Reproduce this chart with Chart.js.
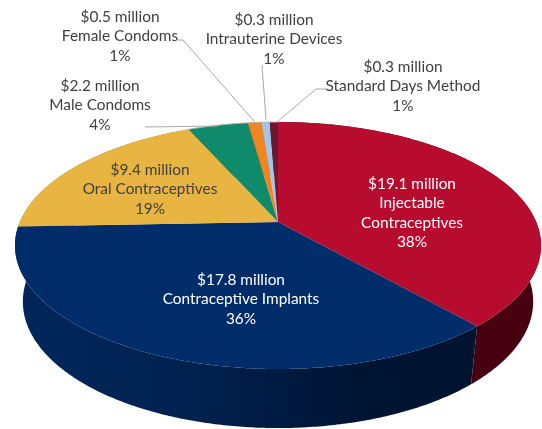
<!DOCTYPE html>
<html>
<head>
<meta charset="utf-8">
<title>Contraceptive spending</title>
<script src="https://cdn.jsdelivr.net/npm/chart.js@4/dist/chart.umd.js"></script>
<style>
  html, body { margin: 0; padding: 0; background: #fff; }
  canvas { display: block; }
</style>
</head>
<body>
<canvas id="chart" width="542" height="429"></canvas>
<script>
const categories = ['Injectable Contraceptives', 'Contraceptive Implants', 'Oral Contraceptives', 'Male Condoms', 'Female Condoms', 'Intrauterine Devices', 'Standard Days Method'];
const millions = [19.1, 17.8, 9.4, 2.2, 0.5, 0.3, 0.3];
const shares = [38, 36, 19, 4, 1, 1, 1];
const topColors = ['#b80c2f', '#002d69', '#e8b542', '#0f8a6b', '#f08622', '#a5c4ea', '#6a1a30'];
const wallColors = ['#47000f', '#00214f', '#a07c20', '#0a5c48', '#a85a14', '#7088a0', '#40101c'];

// label text per slice, split the way the slide breaks it
const labelLines = [
  ['Injectable', 'Contraceptives'],
  ['Contraceptive Implants'],
  ['Oral Contraceptives'],
  ['Male Condoms'],
  ['Female Condoms'],
  ['Intrauterine Devices'],
  ['Standard Days Method']
];
const labelColors = ['#fff', '#fff', '#404040', '#404040', '#404040', '#404040', '#404040'];
const labelAnchors = [[412, 184], [241, 280], [150, 170], [100, 86], [120, 17], [274, 20], [403, 67]];
const leaderLines = [
  null, null, null,
  [[145, 127], [218, 126]],
  [[178, 40], [183, 40], [254, 121]],
  [[262, 65], [266, 120]],
  [[327, 89], [316, 89], [277, 122]]
];

// perspective of the pie disc: top face and bottom rim
const cx = 278;
const tilt = 0.1903;
const topFace = { c: 258.2, a: 76.8, b: 222 };
const bottomFace = { c: 250.5, a: 69, b: 277.6 };

function project(face, angle) {
  const u = Math.cos(angle), v = Math.sin(angle);
  const w = 1 - tilt * v;
  return [cx + face.c * u / w, (face.a * v + face.b) / w];
}

function arcSteps(start, end) {
  const n = Math.max(2, Math.ceil((end - start) / 0.01));
  const out = [];
  for (let i = 0; i <= n; i++) out.push(start + (end - start) * i / n);
  return out;
}

class Arc3d extends Chart.ArcElement {
  static id = 'arc3d';
  static defaults = Chart.ArcElement.defaults;

  drawWall(ctx, color) {
    const angles = arcSteps(this.startAngle, this.endAngle);
    ctx.beginPath();
    angles.forEach(a => ctx.lineTo(...project(topFace, a)));
    angles.reverse().forEach(a => ctx.lineTo(...project(bottomFace, a)));
    ctx.closePath();
    ctx.fillStyle = color;
    ctx.fill();
  }

  draw(ctx) {
    ctx.beginPath();
    ctx.moveTo(cx, topFace.b);
    arcSteps(this.startAngle, this.endAngle).forEach(a => ctx.lineTo(...project(topFace, a)));
    ctx.closePath();
    ctx.fillStyle = this.options.backgroundColor;
    ctx.fill();
  }

  drawRim(ctx) {
    ctx.beginPath();
    arcSteps(this.startAngle, this.endAngle).forEach(a => ctx.lineTo(...project(topFace, a)));
    ctx.strokeStyle = '#b8b8b8';
    ctx.lineWidth = 1;
    ctx.stroke();
  }
}

class Pie3dController extends Chart.PieController {
  static id = 'pie3d';
  static defaults = Chart.PieController.defaults;
  static overrides = Chart.PieController.overrides;

  initialize() {
    super.initialize();
    this.dataElementType = Arc3d;
  }

  draw() {
    const ctx = this.chart.ctx;
    const arcs = this.getMeta().data;
    const blue = ctx.createLinearGradient(15, 0, 480, 0);
    blue.addColorStop(0, '#00265c');
    blue.addColorStop(0.35, '#002250');
    blue.addColorStop(0.75, '#001434');
    blue.addColorStop(1, '#001430');
    arcs.forEach((arc, i) => arc.drawWall(ctx, i === 1 ? blue : wallColors[i]));
    arcs.forEach(arc => arc.draw(ctx));
    // faint edge along the far side, only the small slices sit there
    arcs.slice(3).forEach(arc => arc.drawRim(ctx));
  }
}

Chart.register(Arc3d, Pie3dController);

const labelsPlugin = {
  id: 'sliceLabels',
  afterDraw(chart) {
    const ctx = chart.ctx;
    ctx.save();
    ctx.strokeStyle = '#a9a9a9';
    ctx.lineWidth = 1;
    leaderLines.forEach(points => {
      if (!points) return;
      ctx.beginPath();
      points.forEach(p => ctx.lineTo(p[0], p[1]));
      ctx.stroke();
    });
    ctx.font = '15.4px Lato';
    ctx.textAlign = 'center';
    ctx.textBaseline = 'middle';
    categories.forEach((name, i) => {
      const lines = ['$' + millions[i].toFixed(1) + ' million', ...labelLines[i], shares[i] + '%'];
      ctx.fillStyle = labelColors[i];
      lines.forEach((text, j) => ctx.fillText(text, labelAnchors[i][0], labelAnchors[i][1] + j * 19.3));
    });
    ctx.restore();
  }
};

new Chart(document.getElementById('chart'), {
  type: 'pie3d',
  data: {
    labels: categories,
    datasets: [{ data: millions, backgroundColor: topColors, borderWidth: 0 }]
  },
  options: {
    responsive: false,
    animation: false,
    events: [],
    plugins: { legend: { display: false }, tooltip: { enabled: false } }
  },
  plugins: [labelsPlugin]
});
</script>
</body>
</html>
